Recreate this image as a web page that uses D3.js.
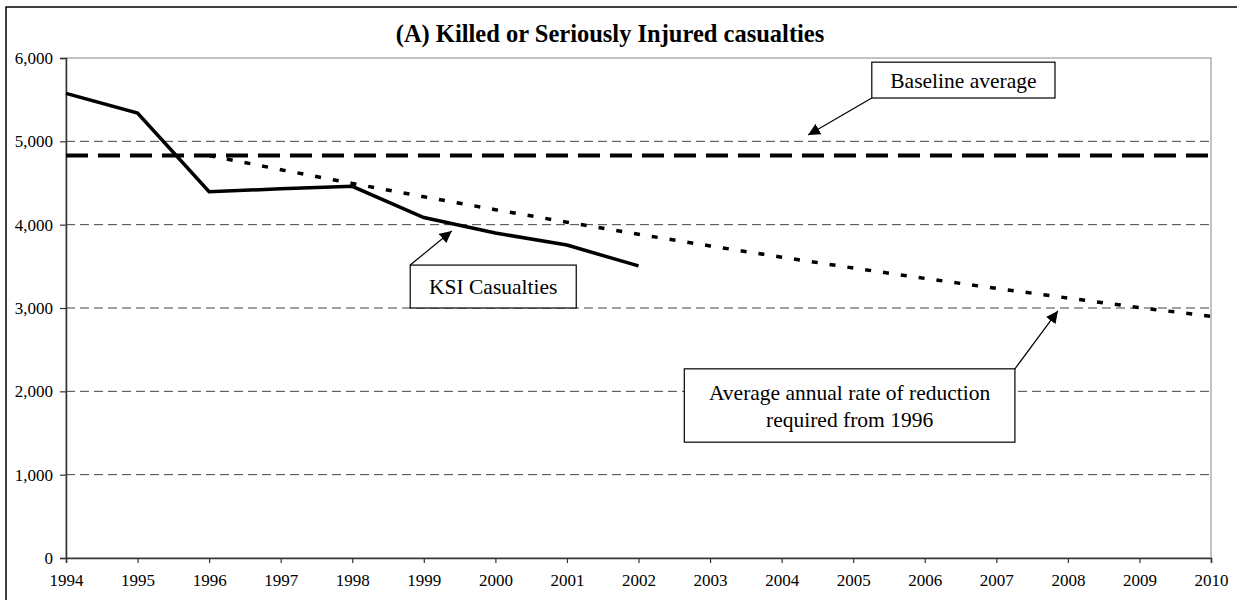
<!DOCTYPE html>
<html>
<head>
<meta charset="utf-8">
<script src="https://cdn.jsdelivr.net/npm/d3@7"></script>
<style>
  body { margin: 0; background: #fff; }
  svg { display: block; font-family: "Liberation Serif", "Times New Roman", serif; }
</style>
</head>
<body>
<svg id="chart" width="1237" height="600"></svg>
<script>
// données
const years = d3.range(1994, 2011);
const yTicks = [0, 1000, 2000, 3000, 4000, 5000, 6000];
const ksiYears = [1994, 1995, 1996, 1997, 1998, 1999, 2000, 2001, 2002];
const ksiValues = [5575, 5340, 4395, 4430, 4460, 4085, 3900, 3755, 3505];
const baselineAverage = 4830;
const targetYears = [1996, 1997, 1998, 1999, 2000, 2001, 2002, 2003, 2004, 2005, 2006, 2007, 2008, 2009, 2010];
const targetValues = [4830, 4660, 4495, 4335, 4180, 4030, 3885, 3745, 3610, 3480, 3355, 3235, 3120, 3005, 2900];

// annotations: boîte [x0, x1] en années, [y0, y1] en valeurs, pointe de flèche
const notes = [
  { lines: ["Baseline average"], box: [2005.26, 2007.82, 5950, 5520], from: "bl", tip: [2004.37, 5075] },
  { lines: ["KSI Casualties"], box: [1998.81, 2001.13, 3515, 3000], from: "tl", tip: [1999.39, 3925] },
  { lines: ["Average annual rate of reduction", "required from 1996"], box: [2002.64, 2007.26, 2270, 1390], from: "tr", tip: [2007.86, 2965] }
];

const svg = d3.select("#chart");
const margin = { left: 66, right: 26, top: 58, bottom: 42 };
const W = 1237, H = 600;

// cadre extérieur
svg.append("rect")
  .attr("x", 6).attr("y", 7)
  .attr("width", 1240).attr("height", 600)
  .attr("fill", "none").attr("stroke", "#000").attr("stroke-width", 1.5);

const x = d3.scaleLinear().domain([1994, 2010]).range([margin.left, W - margin.right]);
const y = d3.scaleLinear().domain([0, 6000]).range([H - margin.bottom, margin.top]);

// titre
svg.append("text")
  .attr("x", 610).attr("y", 42)
  .attr("text-anchor", "middle")
  .attr("font-weight", "bold")
  .attr("font-size", 24.5)
  .text("(A) Killed or Seriously Injured casualties");

// bordure de la zone de tracé
svg.append("rect")
  .attr("x", x(1994)).attr("y", y(6000))
  .attr("width", x(2010) - x(1994)).attr("height", y(0) - y(6000))
  .attr("fill", "none").attr("stroke", "#888").attr("stroke-width", 1);

// quadrillage
svg.append("g")
  .selectAll("line")
  .data(yTicks.filter(d => d > 0 && d < 6000))
  .join("line")
  .attr("x1", x(1994)).attr("x2", x(2010))
  .attr("y1", d => y(d)).attr("y2", d => y(d))
  .attr("stroke", "#444").attr("stroke-width", 1)
  .attr("stroke-dasharray", "9,5");

// axes
const yAxis = svg.append("g")
  .attr("transform", `translate(${x(1994)},0)`)
  .call(d3.axisLeft(y).tickValues(yTicks).tickFormat(d3.format(",")).tickSize(6).tickPadding(7));
const xAxis = svg.append("g")
  .attr("transform", `translate(0,${y(0)})`)
  .call(d3.axisBottom(x).tickValues(years).tickFormat(d3.format("d")).tickSize(5).tickPadding(11));
[yAxis, xAxis].forEach(a => {
  a.select(".domain").attr("stroke", "#333").attr("stroke-width", 1.5);
  a.selectAll(".tick line").attr("stroke", "#333").attr("stroke-width", 1.2);
  a.selectAll(".tick text")
    .attr("fill", "#000")
    .attr("font-size", 17)
    .attr("font-family", "Liberation Serif, Times New Roman, serif");
});

const line = d3.line().x(d => x(d[0])).y(d => y(d[1]));

// moyenne de référence
svg.append("path")
  .attr("d", line([[1994, baselineAverage], [2010, baselineAverage]]))
  .attr("fill", "none").attr("stroke", "#000").attr("stroke-width", 4)
  .attr("stroke-dasharray", "22,10");

// objectif
svg.append("path")
  .attr("d", line(d3.zip(targetYears, targetValues)))
  .attr("fill", "none").attr("stroke", "#000").attr("stroke-width", 3.5)
  .attr("stroke-dasharray", "6,12");

// victimes KSI
svg.append("path")
  .attr("d", line(d3.zip(ksiYears, ksiValues)))
  .attr("fill", "none").attr("stroke", "#000").attr("stroke-width", 3.5)
  .attr("stroke-linejoin", "miter");

// flèches
svg.append("defs").append("marker")
  .attr("id", "arrow")
  .attr("viewBox", "0 0 10 10")
  .attr("refX", 10).attr("refY", 5)
  .attr("markerWidth", 12).attr("markerHeight", 12)
  .attr("markerUnits", "userSpaceOnUse")
  .attr("orient", "auto")
  .append("path").attr("d", "M0,0 L10,5 L0,10 Z").attr("fill", "#000");

const notesG = svg.append("g");
notes.forEach(n => {
  const [a0, a1, v0, v1] = n.box;
  const bx0 = x(a0), bx1 = x(a1), by0 = y(v0), by1 = y(v1);
  const start = n.from === "bl" ? [bx0, by1] : n.from === "tl" ? [bx0, by0] : [bx1, by0];
  notesG.append("line")
    .attr("x1", start[0]).attr("y1", start[1])
    .attr("x2", x(n.tip[0])).attr("y2", y(n.tip[1]))
    .attr("stroke", "#000").attr("stroke-width", 1.2)
    .attr("marker-end", "url(#arrow)");
  notesG.append("rect")
    .attr("x", bx0).attr("y", by0)
    .attr("width", bx1 - bx0).attr("height", by1 - by0)
    .attr("fill", "#fff").attr("stroke", "#000").attr("stroke-width", 1.2);
  const cy = (by0 + by1) / 2;
  const lh = 27;
  n.lines.forEach((t, i) => {
    notesG.append("text")
      .attr("x", (bx0 + bx1) / 2)
      .attr("y", cy + (i - (n.lines.length - 1) / 2) * lh)
      .attr("dy", "0.35em")
      .attr("text-anchor", "middle")
      .attr("font-size", 21.5)
      .text(t);
  });
});
</script>
</body>
</html>
